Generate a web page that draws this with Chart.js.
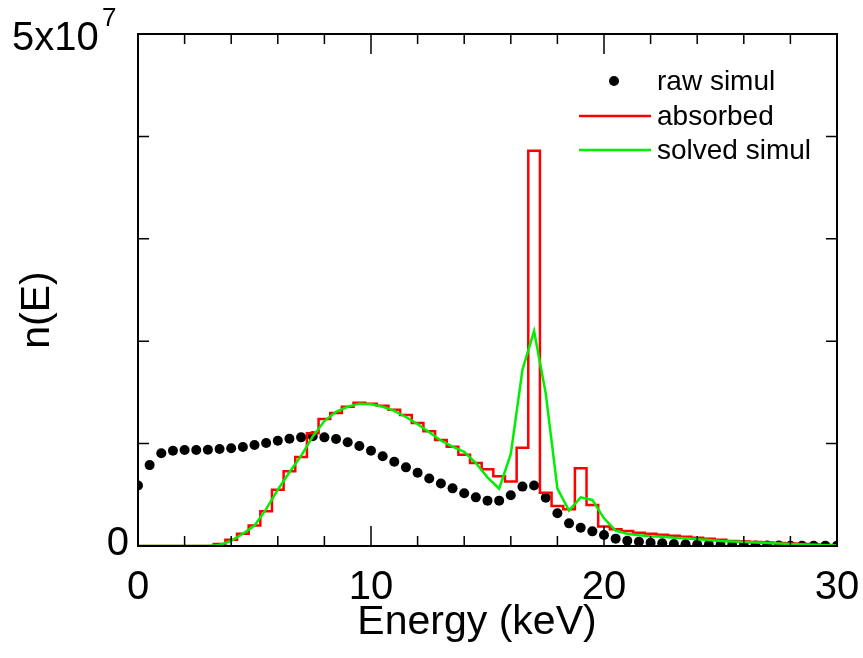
<!DOCTYPE html>
<html>
<head>
<meta charset="utf-8">
<script src="https://cdn.jsdelivr.net/npm/chart.js@4/dist/chart.umd.min.js"></script>
<style>
  html, body { margin: 0; padding: 0; background: #fff; }
  canvas { display: block; }
</style>
</head>
<body>
<canvas id="spectrum" width="863" height="658"></canvas>
<script>
// energy grid (keV), one point every 0.5 keV
const energy = [
    0, 0.5, 1, 1.5, 2, 2.5, 3, 3.5, 4, 4.5,
    5, 5.5, 6, 6.5, 7, 7.5, 8, 8.5, 9, 9.5,
    10, 10.5, 11, 11.5, 12, 12.5, 13, 13.5, 14, 14.5,
    15, 15.5, 16, 16.5, 17, 17.5, 18, 18.5, 19, 19.5,
    20, 20.5, 21, 21.5, 22, 22.5, 23, 23.5, 24, 24.5,
    25, 25.5, 26, 26.5, 27, 27.5, 28, 28.5, 29, 29.5, 30
];

// n(E) in units of 1e7
const rawSimul = [
    0.59, 0.79, 0.905, 0.93, 0.937, 0.937, 0.94, 0.947, 0.954, 0.967,
    0.986, 1.006, 1.028, 1.048, 1.061, 1.071, 1.061, 1.045, 1.013, 0.977,
    0.931, 0.876, 0.823, 0.768, 0.716, 0.66, 0.61, 0.563, 0.515, 0.475,
    0.443, 0.443, 0.495, 0.58, 0.59, 0.472, 0.319, 0.221, 0.179, 0.143,
    0.107, 0.072, 0.052, 0.042, 0.032, 0.026, 0.02, 0.017, 0.015, 0.012,
    0.01, 0.008, 0.007, 0.006, 0.005, 0.004, 0.003, 0.003, 0.002, 0.002, 0.002
];

const absorbed = [
    0, 0, 0, 0, 0, 0, 0, 0.02, 0.06, 0.12,
    0.2, 0.34, 0.55, 0.73, 0.87, 1.10, 1.24, 1.30, 1.36, 1.40,
    1.39, 1.37, 1.33, 1.28, 1.20, 1.12, 1.035, 0.97, 0.89, 0.81,
    0.75, 0.68, 0.63, 0.96, 3.86, 0.52, 0.39, 0.36, 0.76, 0.40,
    0.19, 0.163, 0.146, 0.13, 0.12, 0.11, 0.10, 0.09, 0.08, 0.07,
    0.06, 0.05, 0.045, 0.04, 0.035, 0.03, 0.025, 0.02, 0.015, 0.01, 0.005
];

const solvedSimul = [
    0, 0, 0, 0, 0, 0, 0, 0.01, 0.05, 0.12,
    0.2, 0.36, 0.55, 0.72, 0.88, 1.07, 1.22, 1.31, 1.36, 1.39,
    1.385, 1.36, 1.32, 1.26, 1.19, 1.11, 1.03, 0.97, 0.92, 0.81,
    0.67, 0.56, 0.90, 1.72, 2.10, 1.49, 0.56, 0.345, 0.475, 0.45,
    0.27, 0.15, 0.12, 0.105, 0.095, 0.09, 0.08, 0.075, 0.065, 0.058,
    0.05, 0.045, 0.04, 0.034, 0.03, 0.025, 0.02, 0.015, 0.01, 0.007, 0.004
];

// axis ticks
const xLabelTicks = [0, 10, 20, 30];
const xMinorTicks = [2, 4, 6, 8, 12, 14, 16, 18, 22, 24, 26, 28];
const yTicks = [0, 1, 2, 3, 4, 5];

const legendLabels = ["raw simul", "absorbed", "solved simul"];

const RED = "#ff0000", GREEN = "#00ee00";
const FONT = "'Liberation Sans', Arial, sans-serif";

function pts(ys) {
    return energy.map((e, i) => ({ x: e, y: ys[i] }));
}

// frame, inward ticks, labels and legend drawn by hand
const framePlugin = {
    id: "frame",
    afterDraw(chart) {
        const ctx = chart.ctx;
        const a = chart.chartArea;
        const xs = chart.scales.x, ys = chart.scales.y;
        ctx.save();
        ctx.strokeStyle = "#000";
        ctx.lineWidth = 2;
        ctx.strokeRect(a.left, a.top, a.right - a.left, a.bottom - a.top);

        ctx.lineWidth = 1.5;
        ctx.beginPath();
        xLabelTicks.forEach(v => {
            const px = xs.getPixelForValue(v);
            ctx.moveTo(px, a.bottom); ctx.lineTo(px, a.bottom - 20);
            ctx.moveTo(px, a.top); ctx.lineTo(px, a.top + 20);
        });
        xMinorTicks.forEach(v => {
            const px = xs.getPixelForValue(v);
            ctx.moveTo(px, a.bottom); ctx.lineTo(px, a.bottom - 10);
            ctx.moveTo(px, a.top); ctx.lineTo(px, a.top + 10);
        });
        yTicks.forEach(v => {
            const py = ys.getPixelForValue(v);
            ctx.moveTo(a.left, py); ctx.lineTo(a.left + 11, py);
            ctx.moveTo(a.right, py); ctx.lineTo(a.right - 11, py);
        });
        ctx.stroke();

        // x tick labels
        ctx.fillStyle = "#000";
        ctx.font = "40px " + FONT;
        ctx.textAlign = "center";
        ctx.textBaseline = "alphabetic";
        xLabelTicks.forEach(v => {
            ctx.fillText(String(v), xs.getPixelForValue(v), 599);
        });

        // y tick labels: 0 and 5x10^7
        ctx.textAlign = "right";
        ctx.fillText("0", 129, ys.getPixelForValue(0) + 9);
        ctx.textAlign = "left";
        ctx.fillText("5x10", 12, 50);
        ctx.font = "26px " + FONT;
        ctx.fillText("7", 102, 26);

        // axis titles
        ctx.font = "41px " + FONT;
        ctx.textAlign = "center";
        ctx.fillText("Energy (keV)", 477, 634);
        ctx.save();
        ctx.translate(49, 310);
        ctx.rotate(-Math.PI / 2);
        ctx.fillText("n(E)", 0, 0);
        ctx.restore();

        // legend
        ctx.font = "28px " + FONT;
        ctx.textAlign = "left";
        ctx.textBaseline = "middle";
        ctx.beginPath();
        ctx.arc(614, 81, 5, 0, Math.PI * 2);
        ctx.fill();
        ctx.lineWidth = 2.5;
        ctx.strokeStyle = RED;
        ctx.beginPath(); ctx.moveTo(579, 116); ctx.lineTo(651, 116); ctx.stroke();
        ctx.strokeStyle = GREEN;
        ctx.beginPath(); ctx.moveTo(579, 150); ctx.lineTo(651, 150); ctx.stroke();
        ctx.fillText(legendLabels[0], 657, 82);
        ctx.fillText(legendLabels[1], 657, 117);
        ctx.fillText(legendLabels[2], 657, 151);
        ctx.restore();
    }
};

const config = {
    type: "line",
    data: {
        datasets: [
            {
                label: legendLabels[2],
                data: pts(solvedSimul),
                borderColor: GREEN,
                borderWidth: 2.5,
                pointRadius: 0,
                tension: 0,
                order: 0
            },
            {
                label: legendLabels[1],
                data: pts(absorbed),
                borderColor: RED,
                borderWidth: 2.5,
                pointRadius: 0,
                stepped: "middle",
                order: 1
            },
            {
                label: legendLabels[0],
                data: pts(rawSimul),
                showLine: false,
                pointRadius: 5,
                pointBorderWidth: 0,
                pointBackgroundColor: "#000",
                borderColor: "#000",
                order: 2
            }
        ]
    },
    options: {
        responsive: false,
        animation: false,
        layout: { padding: { left: 138, right: 26, top: 34, bottom: 112 } },
        scales: {
            x: { type: "linear", min: 0, max: 30, display: false },
            y: { type: "linear", min: 0, max: 5, display: false }
        },
        plugins: { legend: { display: false }, tooltip: { enabled: false } }
    },
    plugins: [framePlugin]
};

let chart = new Chart(document.getElementById("spectrum").getContext("2d"), config);
</script>
</body>
</html>
